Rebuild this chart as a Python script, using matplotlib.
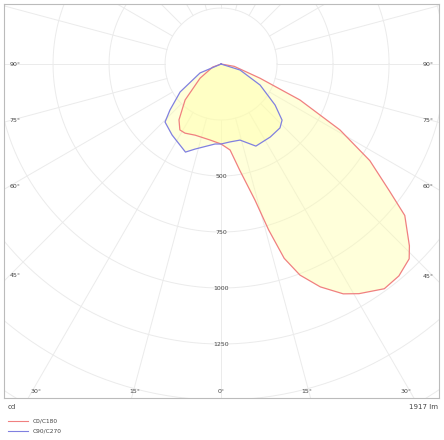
import numpy as np
import matplotlib.pyplot as plt
from matplotlib.lines import Line2D

# luminous intensity distribution (gamma in degrees, intensity in cd)
# C0 (right half) / C180 (left half)
c0_gamma = [0, 6, 10, 14, 16, 18, 20.5, 24, 28, 31, 36, 40, 44, 46, 50.5, 53, 57, 61, 65.5, 70, 80, 90]
c0_cd = [357, 386, 482, 626, 770, 912, 1006, 1089, 1162, 1196, 1240, 1235, 1209, 1169, 1063, 941, 792, 607, 387, 185, 60, 0]
c180_gamma = [0, 8, 20, 27.5, 32, 37, 45, 56, 70, 90]
c180_cd = [357, 343, 338, 348, 347, 312, 227, 113, 40, 0]
# C90 (right half) / C270 (left half)
c90_gamma = [0, 6.6, 14, 23, 34, 42.7, 47.4, 52.8, 61.7, 72.5, 90]
c90_cd = [357, 350, 350, 398, 393, 388, 370, 303, 198, 89, 0]
c270_gamma = [0, 4.3, 17, 22, 34.6, 44, 48, 55.7, 67, 90]
c270_cd = [357, 358, 397, 424, 385, 360, 307, 221, 102, 0]

rings = [250, 500, 750, 1000, 1250, 1500, 1750, 2000, 2250]
ring_labels = [500, 750, 1000, 1250]
side_angles = [90, 75, 60, 45]
bottom_angles = [-30, -15, 0, 15, 30]
flux_text = "1917 lm"


def to_xy(gamma_right, cd_right, gamma_left, cd_left):
    g = np.concatenate([np.radians(gamma_right)[::-1], -np.radians(gamma_left)[1:]])
    r = np.concatenate([np.array(cd_right)[::-1], np.array(cd_left)[1:]])
    return r * np.sin(g), -r * np.cos(g)


fig = plt.figure(figsize=(4.44, 4.40), dpi=100)
ax = fig.add_axes([4 / 444, 42 / 440, 435 / 444, 394 / 440])
xmin, xmax, ymin, ymax = -969, 973, -1491, 268
ax.set_xlim(xmin, xmax)
ax.set_ylim(ymin, ymax)
ax.set_xticks([])
ax.set_yticks([])
for s in ax.spines.values():
    s.set_color('#bbbbbb')
    s.set_linewidth(0.8)

# grid
t = np.linspace(0, 2 * np.pi, 400)
for r in rings:
    ax.plot(r * np.cos(t), r * np.sin(t), color='#ebebeb', lw=0.7, zorder=1)
for a in range(0, 360, 15):
    g = np.radians(a)
    ax.plot([250 * np.sin(g), 3000 * np.sin(g)], [-250 * np.cos(g), -3000 * np.cos(g)],
            color='#ebebeb', lw=0.7, zorder=1)

# curves
x1, y1 = to_xy(c0_gamma, c0_cd, c180_gamma, c180_cd)
x2, y2 = to_xy(c90_gamma, c90_cd, c270_gamma, c270_cd)
ax.fill(x1, y1, color='#ffffa8', alpha=0.42, lw=0, zorder=2)
ax.fill(x2, y2, color='#ffffa8', alpha=0.42, lw=0, zorder=2)
ax.plot(x1, y1, color='#f08080', lw=0.9, zorder=3)
ax.plot(x2, y2, color='#8080e0', lw=0.9, zorder=3)

# labels
fs = 4.5
tc = '#444444'
for v in ring_labels:
    ax.text(0, -v, str(v), fontsize=fs, color=tc, ha='center', va='center', zorder=4)
for a in side_angles:
    g = np.radians(a)
    for xe, ha in [(xmin + 25, 'left'), (xmax - 25, 'right')]:
        y = -abs(xe) * np.cos(g) / np.sin(g)
        ax.text(xe, y, f"{a}°", fontsize=fs, color=tc, ha=ha, va='center')
for a in bottom_angles:
    x = 1491 * np.tan(np.radians(a)) * 0.96
    ax.text(x, ymin + 28, f"{abs(a)}°", fontsize=fs, color=tc, ha='center', va='center')

fig.text(8 / 444, 1 - 407 / 440, "cd", fontsize=5, color=tc, va='center')
fig.text(438 / 444, 1 - 407 / 440, flux_text, fontsize=5, color=tc, va='center', ha='right')
for yy, col, lab in [(421, '#f08080', 'C0/C180'), (431, '#8080e0', 'C90/C270')]:
    fig.add_artist(Line2D([8 / 444, 28 / 444], [1 - yy / 440] * 2, color=col, lw=0.8))
    fig.text(33 / 444, 1 - yy / 440, lab, fontsize=4.2, color=tc, va='center')

fig.savefig("out.png", dpi=100)
